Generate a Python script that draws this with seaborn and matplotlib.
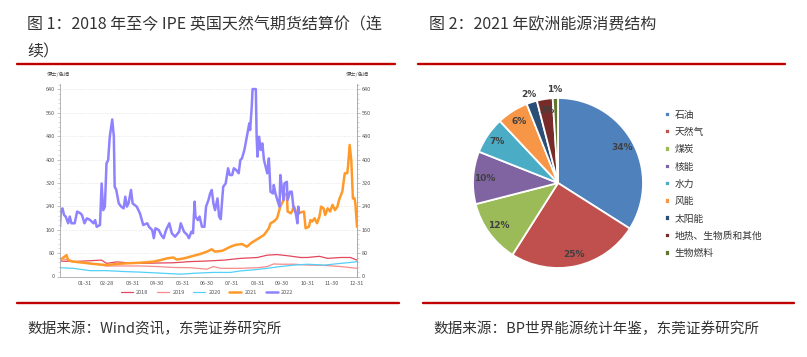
import matplotlib
matplotlib.use("Agg")
import matplotlib.pyplot as plt
from matplotlib.lines import Line2D
from matplotlib.ticker import MultipleLocator
import numpy as np
import pandas as pd
import seaborn as sns

# ---------------- Figure 1 data (day of year -> pence/therm) ----------------
days_2018 = [0, 16, 51, 57, 70, 82, 98, 139, 160, 180, 201, 221, 242, 254, 266, 279, 295, 303, 318, 328, 344, 356, 364]
vals_2018 = [53, 51, 56, 45, 50, 47, 45, 47, 51, 53, 56, 62, 65, 73, 75, 71, 65, 65, 69, 62, 65, 65, 56]

days_2019 = [0, 8, 16, 37, 57, 82, 98, 119, 139, 160, 180, 188, 197, 221, 242, 254, 262, 270, 287, 303, 324, 344, 364]
vals_2019 = [62, 58, 51, 45, 36, 36, 36, 34, 31, 30, 25, 34, 28, 28, 30, 34, 43, 42, 42, 39, 38, 34, 28]

days_2020 = [0, 16, 37, 57, 78, 98, 119, 148, 164, 188, 209, 221, 238, 254, 270, 287, 303, 324, 344, 356, 364]
vals_2020 = [30, 28, 20, 20, 17, 15, 12, 8, 11, 14, 14, 19, 23, 28, 34, 39, 42, 39, 45, 48, 51]

days_2021 = [0, 8, 10, 16, 29, 41, 57, 70, 82, 98, 115, 123, 131, 139, 143, 152, 160, 172, 180, 186,
             190, 199, 209, 215, 223, 229, 235, 242, 250, 256, 258, 262, 266, 270, 274, 275, 278, 279,
             283, 287, 289, 293, 299, 301, 305, 307, 309, 312, 315, 318, 320, 323, 325, 328, 331, 334,
             337, 340, 342, 346, 349, 352, 353, 355, 357, 359, 361, 362, 364]
vals_2021 = [56, 73, 56, 51, 47, 43, 39, 43, 45, 47, 51, 56, 62, 65, 58, 62, 68, 77, 85, 93,
             85, 88, 102, 108, 111, 102, 116, 128, 142, 165, 182, 188, 199, 239, 262, 284, 279, 222,
             216, 239, 222, 218, 222, 165, 170, 193, 188, 199, 182, 205, 239, 233, 210, 233, 222, 245,
             227, 239, 262, 290, 353, 353, 376, 450, 398, 267, 267, 250, 170]

days_2022 = [0, 1, 3, 5, 7, 10, 12, 14, 18, 21, 25, 27, 30, 33, 37, 41, 43, 45, 49, 51, 53, 55, 57, 59,
             61, 64, 66, 67, 69, 72, 75, 78, 80, 82, 84, 87, 89, 94, 98, 102, 107, 109, 113, 115, 117,
             121, 124, 127, 130, 134, 137, 141, 146, 148, 152, 156, 158, 161, 163, 165, 166, 169, 171,
             174, 177, 179, 182, 184, 186, 188, 190, 193, 195, 197, 200, 203, 206, 208, 211, 213, 216,
             219, 221, 223, 226, 229, 232, 233, 235, 236, 240, 241, 242, 244, 246, 248, 250, 252, 254,
             256, 258, 261, 262, 264, 267, 269, 270, 272, 274, 275, 278, 279, 282, 284, 286, 289, 291,
             292, 293]
vals_2022 = [170, 222, 233, 210, 205, 182, 205, 182, 182, 222, 216, 210, 182, 199, 193, 182, 193, 170,
             176, 318, 227, 239, 387, 398, 478, 537, 478, 307, 296, 250, 239, 233, 273, 239, 250, 296,
             250, 239, 216, 176, 182, 170, 159, 131, 165, 159, 142, 131, 159, 182, 148, 136, 153, 182,
             153, 142, 131, 153, 148, 256, 205, 193, 205, 170, 170, 239, 262, 284, 296, 250, 227, 267,
             205, 196, 307, 318, 370, 347, 347, 370, 364, 353, 398, 404, 433, 478, 524, 501, 581, 641,
             641, 478, 410, 478, 433, 455, 398, 376, 353, 404, 290, 284, 313, 284, 256, 239, 347, 301,
             262, 318, 324, 262, 290, 290, 239, 216, 182, 239, 216]

series_years = ["2018", "2019", "2020", "2021", "2022"]
series_colors = ["#e2475a", "#f58b8b", "#52d0f7", "#ff9a2a", "#8f82ff"]
month_ticks = [30, 58, 89, 119, 150, 180, 211, 242, 272, 303, 333, 364]
month_labels = ["01-31", "02-28", "03-31", "04-30", "05-31", "06-30",
                "07-31", "08-31", "09-30", "10-31", "11-30", "12-31"]
price_ticks = [0, 80, 160, 240, 320, 400, 480, 560, 640]
unit_label = "便士/色姆"

# ---------------- Figure 2 data ----------------
energy_types = ["石油", "天然气", "煤炭", "核能", "水力", "风能", "太阳能", "地热、生物质和其他", "生物燃料"]
energy_shares = [34, 25, 12, 10, 7, 6, 2, 3, 1]
energy_colors = ["#4f81bd", "#c0504d", "#9bbb59", "#8064a2", "#4bacc6",
                 "#f79646", "#2c4d75", "#772c2a", "#5f7530"]

title1_a = "图 1：2018 年至今 IPE 英国天然气期货结算价（连"
title1_b = "续）"
title2 = "图 2：2021 年欧洲能源消费结构"
source1 = "数据来源：Wind资讯，东莞证券研究所"
source2 = "数据来源：BP世界能源统计年鉴，东莞证券研究所"

# ---------------- style ----------------
sns.set_theme(style="white")
plt.rcParams['font.family'] = ['Noto Sans CJK SC', 'DejaVu Sans']

W, H = 807, 357
fig = plt.figure(figsize=(W / 100, H / 100), dpi=100)
fig.patch.set_facecolor("white")


def fx(px):
    return px / W


def fy(py):
    return 1 - py / H


# ---------------- titles, rules, sources ----------------
txt_col = "#333333"
fig.text(fx(27), fy(25), title1_a, fontsize=11.5, va="center", ha="left", color=txt_col)
fig.text(fx(27), fy(52), title1_b, fontsize=11.5, va="center", ha="left", color=txt_col)
fig.text(fx(429), fy(25), title2, fontsize=11.5, va="center", ha="left", color=txt_col)
fig.text(fx(27), fy(329), source1, fontsize=10.5, va="center", ha="left", color=txt_col)
fig.text(fx(433), fy(329), source2, fontsize=10.5, va="center", ha="left", color=txt_col)

red = "#c00000"
for (x0, x1, yy) in [(17, 395, 64), (418, 785, 64), (17, 399, 303), (423, 794, 303)]:
    fig.add_artist(Line2D([fx(x0), fx(x1)], [fy(yy), fy(yy)], color=red, lw=1.7,
                          transform=fig.transFigure))

# ---------------- Figure 1: line chart ----------------
ax = fig.add_axes([fx(60), fy(276.5), fx(357) - fx(60), fy(83.5) - fy(276.5)])
all_days = [days_2018, days_2019, days_2020, days_2021, days_2022]
all_vals = [vals_2018, vals_2019, vals_2020, vals_2021, vals_2022]
widths = [0.9, 0.9, 0.9, 1.8, 1.8]
for yr, d, v, c, w in zip(series_years, all_days, all_vals, series_colors, widths):
    df = pd.DataFrame({"day": d, "price": v})
    sns.lineplot(data=df, x="day", y="price", ax=ax, color=c, linewidth=w,
                 label=yr, estimator=None, sort=False)

ax.set_xlim(0, 364)
ax.set_ylim(0, 660)
ax.set_xlabel("")
ax.set_ylabel("")
ax.set_xticks(month_ticks)
ax.set_xticklabels(month_labels)
ax.set_yticks(price_ticks)
ax.yaxis.set_minor_locator(MultipleLocator(16))
ax.grid(axis="y", color="#e3e3e3", linestyle=(0, (2, 2)), linewidth=0.5)
ax.set_axisbelow(True)
for s in ["top"]:
    ax.spines[s].set_visible(False)
for s in ["left", "right", "bottom"]:
    ax.spines[s].set_color("#aaaaaa")
    ax.spines[s].set_linewidth(0.6)
ax.tick_params(axis="both", which="major", labelsize=4, colors="#aaaaaa",
               labelcolor="#555555", length=2, width=0.5, pad=1.5, direction="out")
ax.tick_params(axis="y", which="minor", length=1.2, width=0.4, colors="#bbbbbb", left=True)

ax2 = ax.twinx()
ax2.set_ylim(0, 660)
ax2.set_yticks(price_ticks)
ax2.yaxis.set_minor_locator(MultipleLocator(16))
ax2.grid(False)
for s in ["top", "left", "bottom"]:
    ax2.spines[s].set_visible(False)
ax2.spines["right"].set_color("#aaaaaa")
ax2.spines["right"].set_linewidth(0.6)
ax2.tick_params(axis="y", which="major", labelsize=4, colors="#aaaaaa",
                labelcolor="#555555", length=2, width=0.5, pad=1.5)
ax2.tick_params(axis="y", which="minor", length=1.2, width=0.4, colors="#bbbbbb", right=True)

fig.text(fx(58), fy(74), unit_label, fontsize=3.8, ha="center", va="center", color="#555555")
fig.text(fx(357), fy(74), unit_label, fontsize=3.8, ha="center", va="center", color="#555555")

handles, labels = ax.get_legend_handles_labels()
ax.get_legend().remove()
fig.legend(handles, labels, loc="center", bbox_to_anchor=(fx(207), fy(292)), ncol=5,
           frameon=False, fontsize=4, handlelength=2.2, columnspacing=1.5,
           handletextpad=0.6, labelcolor="#555555")

# ---------------- Figure 2: pie chart ----------------
R = 85
box = 230
pax = fig.add_axes([fx(558 - box / 2), fy(183 + box / 2), box / W, box / H])
rad = R / (box / 2)
wedges, _, pcts = pax.pie(energy_shares, colors=energy_colors, startangle=90, counterclock=False,
                          radius=rad, autopct=lambda p: f"{p:.0f}%", pctdistance=0.86,
                          wedgeprops=dict(edgecolor="white", linewidth=1.3),
                          textprops=dict(fontsize=6.5, color="#404040", fontweight="bold",
                                         family=["DejaVu Sans"]))
for i, (w, t) in enumerate(zip(wedges, pcts)):
    if energy_shares[i] <= 2:
        ang = np.deg2rad((w.theta1 + w.theta2) / 2)
        t.set_position((1.1 * rad * np.cos(ang), 1.1 * rad * np.sin(ang)))
pax.set_xlim(-1, 1)
pax.set_ylim(-1, 1)
pax.set_aspect("equal")
pax.axis("off")

fig.legend(wedges, energy_types, loc="upper left", bbox_to_anchor=(fx(660), fy(105)),
           frameon=False, fontsize=7, handlelength=0.5, handleheight=0.5,
           handletextpad=0.5, labelspacing=0.75, labelcolor="#333333", borderpad=0)

fig.savefig("out.png", dpi=100, facecolor="white")
